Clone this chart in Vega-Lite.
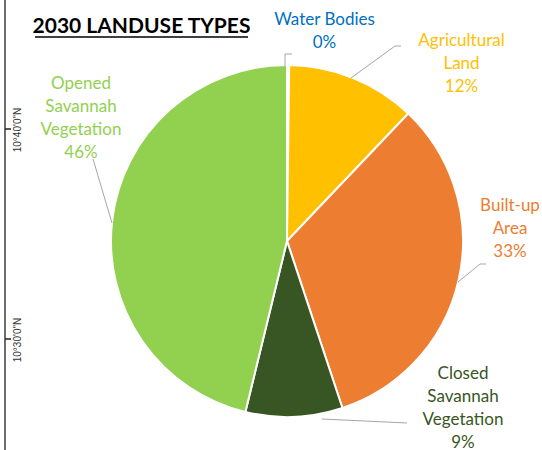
{
  "$schema": "https://vega.github.io/schema/vega-lite/v6.json",
  "width": 510,
  "height": 418,
  "autosize": {"type": "none"},
  "padding": {"left": 32, "top": 32, "right": 0, "bottom": 0},
  "background": "white",
  "config": {"view": {"stroke": null}},
  "datasets": {
    "slices": [
      {"name": "Water Bodies", "value": 0.2, "ord": 1},
      {"name": "Agricultural Land", "value": 11.9, "ord": 2},
      {"name": "Built-up Area", "value": 32.8, "ord": 3},
      {"name": "Closed Savannah Vegetation", "value": 8.9, "ord": 4},
      {"name": "Opened Savannah Vegetation", "value": 46.2, "ord": 5}
    ],
    "labels": [
      {"name": "Water Bodies", "label": "Water Bodies\n0%", "u": 37.5, "v": 221},
      {"name": "Agricultural Land", "label": "Agricultural\nLand\n12%", "u": 174.5, "v": 200},
      {"name": "Built-up Area", "label": "Built-up\nArea\n33%", "u": 223, "v": 35},
      {"name": "Closed Savannah Vegetation", "label": "Closed\nSavannah\nVegetation\n9%", "u": 176, "v": -133},
      {"name": "Opened Savannah Vegetation", "label": "Opened\nSavannah\nVegetation\n46%", "u": -206, "v": 157}
    ],
    "leaders": [
      {"id": "water", "k": 1, "u": -2, "v": 174},
      {"id": "water", "k": 2, "u": -2, "v": 187},
      {"id": "water", "k": 3, "u": 5, "v": 187},
      {"id": "agri", "k": 1, "u": 64, "v": 163},
      {"id": "agri", "k": 2, "u": 108, "v": 195},
      {"id": "agri", "k": 3, "u": 114, "v": 195},
      {"id": "built", "k": 1, "u": 171, "v": -41},
      {"id": "built", "k": 2, "u": 193, "v": -23},
      {"id": "built", "k": 3, "u": 199, "v": -23},
      {"id": "closed", "k": 1, "u": 35, "v": -178},
      {"id": "closed", "k": 2, "u": 120, "v": -182},
      {"id": "opened", "k": 1, "u": -175, "v": 18},
      {"id": "opened", "k": 2, "u": -194, "v": 82}
    ],
    "title": [{"text": "2030 LANDUSE TYPES", "u": -145.5, "v": 208}],
    "underline": [{"u": -252, "u2": -39, "v": 204, "v2": 204}],
    "frame": [{"u": -282, "u2": -282, "v": 241, "v2": -209}],
    "ticks": [
      {"u": -282, "u2": -276, "v": 112, "v2": 112, "lat": "10°40'0\"N", "lu": -269, "lv": 111},
      {"u": -282, "u2": -276, "v": -98, "v2": -98, "lat": "10°30'0\"N", "lu": -269, "lv": -99}
    ]
  },
  "encoding": {
    "x": {"field": "u", "type": "quantitative", "scale": {"domain": [-255, 255], "nice": false, "zero": false}, "axis": null},
    "y": {"field": "v", "type": "quantitative", "scale": {"domain": [-209, 209], "nice": false, "zero": false}, "axis": null}
  },
  "layer": [
    {
      "data": {"name": "slices"},
      "mark": {"type": "arc", "outerRadius": 176, "stroke": "white", "strokeWidth": 2},
      "encoding": {
        "x": null,
        "y": null,
        "theta": {"field": "value", "type": "quantitative", "stack": true},
        "order": {"field": "ord", "type": "quantitative"},
        "color": {
          "field": "name", "type": "nominal", "legend": null,
          "scale": {
            "domain": ["Water Bodies", "Agricultural Land", "Built-up Area", "Closed Savannah Vegetation", "Opened Savannah Vegetation"],
            "range": ["#0070C0", "#FFC000", "#ED7D31", "#375623", "#92D050"]
          }
        }
      }
    },
    {
      "data": {"name": "leaders"},
      "mark": {"type": "line", "stroke": "#A6A6A6", "strokeWidth": 1},
      "encoding": {
        "detail": {"field": "id", "type": "nominal"},
        "order": {"field": "k", "type": "quantitative"}
      }
    },
    {
      "data": {"name": "labels"},
      "mark": {"type": "text", "font": "Lato", "fontSize": 17, "lineBreak": "\n", "lineHeight": 23, "align": "center", "baseline": "middle"},
      "encoding": {
        "text": {"field": "label", "type": "nominal"},
        "color": {"field": "name", "type": "nominal", "legend": null}
      }
    },
    {
      "data": {"name": "title"},
      "mark": {"type": "text", "font": "Lato", "fontSize": 21, "fontWeight": "bold", "color": "black", "align": "center", "baseline": "alphabetic"},
      "encoding": {"text": {"field": "text", "type": "nominal"}}
    },
    {
      "data": {"name": "underline"},
      "mark": {"type": "rule", "color": "black", "strokeWidth": 1.5},
      "encoding": {"x2": {"field": "u2"}, "y2": {"field": "v2"}}
    },
    {
      "data": {"name": "frame"},
      "mark": {"type": "rule", "color": "#6E6E6E", "strokeWidth": 2},
      "encoding": {"x2": {"field": "u2"}, "y2": {"field": "v2"}}
    },
    {
      "data": {"name": "ticks"},
      "mark": {"type": "rule", "color": "#222222", "strokeWidth": 1.5},
      "encoding": {"x2": {"field": "u2"}, "y2": {"field": "v2"}}
    },
    {
      "data": {"name": "ticks"},
      "mark": {"type": "text", "font": "Liberation Sans", "fontSize": 10, "angle": 270, "color": "#333333", "align": "center", "baseline": "middle"},
      "encoding": {
        "x": {"field": "lu", "type": "quantitative"},
        "y": {"field": "lv", "type": "quantitative"},
        "text": {"field": "lat", "type": "nominal"}
      }
    }
  ]
}
